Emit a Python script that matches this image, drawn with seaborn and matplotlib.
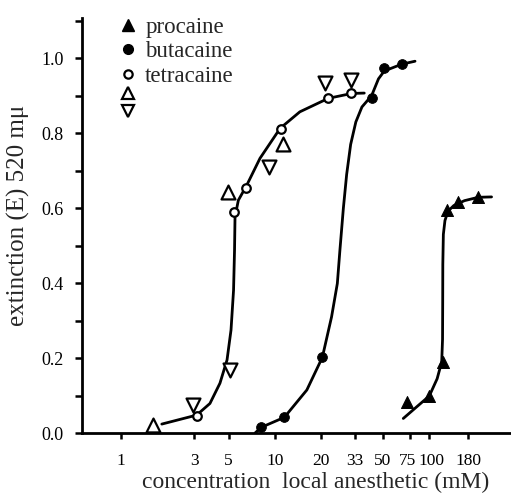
import matplotlib
matplotlib.use('Agg')
from matplotlib import pyplot as plt
from matplotlib.lines import Line2D
from matplotlib.ticker import FixedLocator, NullLocator, MultipleLocator, FormatStrFormatter
from matplotlib.transforms import ScaledTranslation
import pandas as pd
import seaborn as sns

# measured points
procaine_x = [71.6, 100.5, 123.8, 131.5, 155, 209]
procaine_y = [0.083, 0.099, 0.19, 0.595, 0.617, 0.63]
butacaine_x = [8.1, 11.5, 20.3, 42.4, 51.3, 66.5]
butacaine_y = [0.015, 0.042, 0.202, 0.895, 0.973, 0.984]
tetracaine_x = [3.1, 5.44, 6.45, 10.9, 22.2, 31.2]
tetracaine_y = [0.045, 0.59, 0.655, 0.81, 0.893, 0.906]
up_x = [1.62, 4.98, 11.3]
up_y = [0.021, 0.643, 0.772]
down_x = [2.95, 5.1, 9.19, 21.1, 31.0]
down_y = [0.075, 0.168, 0.71, 0.934, 0.941]

# hand drawn curves
proc_curve_x = [68.1, 83.2, 100.5, 113, 121, 122.5, 122.8, 123, 124, 127, 133, 145, 170, 209, 255]
proc_curve_y = [0.039, 0.070, 0.099, 0.145, 0.19, 0.25, 0.35, 0.45, 0.53, 0.567, 0.592, 0.607, 0.62, 0.629, 0.630]
buta_curve_x = [7.42, 8.11, 11.5, 16.1, 20.3, 23.3, 25.4, 26.4, 27.8, 29.2, 31.0, 33.5, 36.7, 42.4, 47.0, 51.3, 66.5, 81.2]
buta_curve_y = [0.0, 0.015, 0.042, 0.115, 0.202, 0.310, 0.399, 0.488, 0.60, 0.690, 0.770, 0.830, 0.870, 0.900, 0.945, 0.966, 0.984, 0.992]
tetra_curve_x = [1.84, 3.10, 3.78, 4.39, 4.88, 5.18, 5.38, 5.46, 5.50, 5.78, 6.55, 7.99, 10.8, 14.5, 22.2, 31.5, 38.0]
tetra_curve_y = [0.024, 0.048, 0.079, 0.133, 0.195, 0.275, 0.381, 0.488, 0.577, 0.621, 0.661, 0.733, 0.813, 0.857, 0.893, 0.906, 0.907]

x_ticks = [1, 3, 5, 10, 20, 33, 50, 75, 100, 180]

sns.set_style('ticks')
plt.rcParams['font.family'] = ['Liberation Serif', 'DejaVu Serif']

fig = plt.figure(figsize=(5.11, 5.03), dpi=100)
ax = fig.add_axes([0.1605, 0.139, 0.8395, 0.825])

for cx, cy in [(proc_curve_x, proc_curve_y), (buta_curve_x, buta_curve_y),
               (tetra_curve_x, tetra_curve_y)]:
    d = pd.DataFrame({'x': cx, 'y': cy})
    sns.lineplot(data=d, x='x', y='y', sort=False, color='black', lw=2, ax=ax)

sns.scatterplot(x=procaine_x, y=procaine_y, marker='^', s=75, color='black',
                edgecolor='black', ax=ax, zorder=3)
sns.scatterplot(x=butacaine_x, y=butacaine_y, marker='o', s=50, color='black',
                edgecolor='black', ax=ax, zorder=3)
sns.scatterplot(x=tetracaine_x, y=tetracaine_y, marker='o', s=38, color='white',
                edgecolor='black', linewidth=1.6, ax=ax, zorder=3)
sns.scatterplot(x=up_x, y=up_y, marker='^', s=100, color='white',
                edgecolor='black', linewidth=1.6, ax=ax, zorder=3)
sns.scatterplot(x=down_x, y=down_y, marker='v', s=100, color='white',
                edgecolor='black', linewidth=1.6, ax=ax, zorder=3)

ax.set_xscale('log')
ax.set_xlim(0.558, 341)
ax.set_ylim(0, 1.107)
ax.xaxis.set_major_locator(FixedLocator(x_ticks))
ax.xaxis.set_minor_locator(NullLocator())
ax.set_xticklabels([str(t) for t in x_ticks])
ax.yaxis.set_major_locator(MultipleLocator(0.2))
ax.yaxis.set_minor_locator(MultipleLocator(0.1))
ax.yaxis.set_major_formatter(FormatStrFormatter('%.1f'))
ax.tick_params(which='both', direction='out', width=1.8, labelsize=13, colors='black')
ax.tick_params(axis='y', which='both', length=5, pad=8)
ax.tick_params(axis='x', which='both', length=4.3, pad=10, labelsize=12.5)
sns.despine(ax=ax)
for s in ['left', 'bottom']:
    ax.spines[s].set_linewidth(2)
    ax.spines[s].set_color('black')
ax.set_xlabel('concentration  local anesthetic (mM)', fontsize=17)
ax.set_ylabel('extinction (E) 520 mμ', fontsize=18)
ax.xaxis.set_label_coords(0.544, -0.094)
ax.yaxis.set_label_coords(-0.122, 0.525)

# the 75 and 100 labels sit almost touching; nudge them apart a little
labs = ax.get_xticklabels()
for lab, dx in [(labs[7], -2), (labs[8], 2)]:
    lab.set_transform(lab.get_transform() + ScaledTranslation(dx / 100, 0, fig.dpi_scale_trans))

# legend: named series, then the two unnamed triangle series set closer together
handles = [
    Line2D([], [], ls='', marker='^', ms=8.5, color='black'),
    Line2D([], [], ls='', marker='o', ms=7, color='black'),
    Line2D([], [], ls='', marker='o', ms=6, mfc='white', mec='black', mew=1.6),
]
leg1 = ax.legend(handles, ['procaine', 'butacaine', 'tetracaine'], loc='upper left',
                 bbox_to_anchor=(0.0858, 1.003), frameon=False, fontsize=16.5,
                 handlelength=0.8, handletextpad=0.35, labelspacing=0.15,
                 borderpad=0, borderaxespad=0)
ax.add_artist(leg1)
handles2 = [
    Line2D([], [], ls='', marker='^', ms=8, mfc='white', mec='black', mew=1.6),
    Line2D([], [], ls='', marker='v', ms=8, mfc='white', mec='black', mew=1.6),
]
ax.legend(handles2, ['', ''], loc='upper left', bbox_to_anchor=(0.095, 0.83),
          frameon=False, fontsize=9.5, handlelength=0.8, handletextpad=0,
          labelspacing=0.38, borderpad=0, borderaxespad=0)

fig.savefig('out.png', dpi=100)
